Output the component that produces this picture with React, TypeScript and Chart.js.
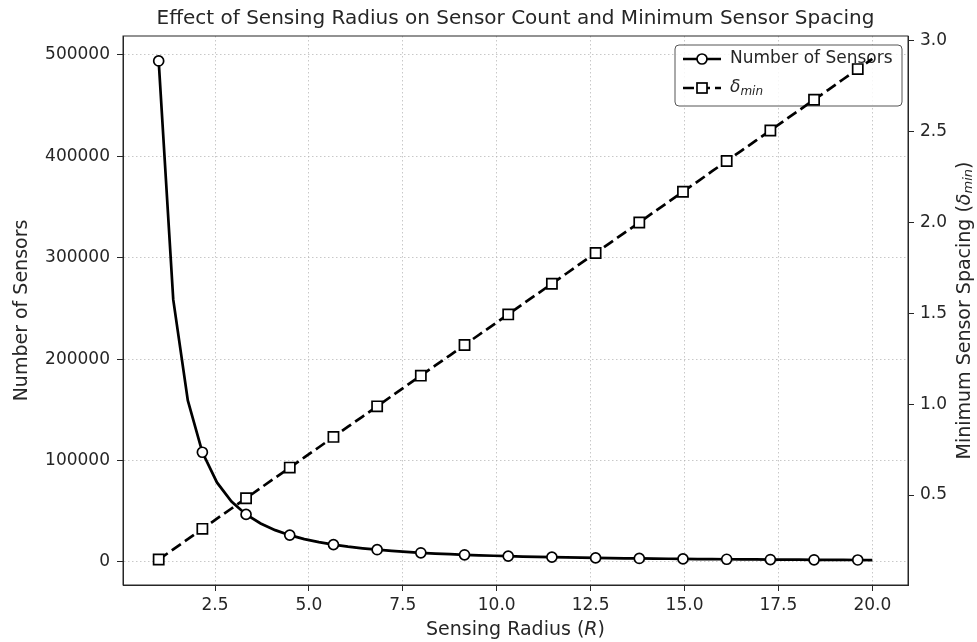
import React, { useEffect, useRef } from "react";
import { Chart, registerables } from "chart.js";
Chart.register(...registerables);

const radius = [
  1.0, 1.3878, 1.7755, 2.1633, 2.551, 2.9388, 3.3265, 3.7143, 4.102, 4.4898,
  4.8776, 5.2653, 5.6531, 6.0408, 6.4286, 6.8163, 7.2041, 7.5918, 7.9796, 8.3673,
  8.7551, 9.1429, 9.5306, 9.9184, 10.3061, 10.6939, 11.0816, 11.4694, 11.8571, 12.2449,
  12.6327, 13.0204, 13.4082, 13.7959, 14.1837, 14.5714, 14.9592, 15.3469, 15.7347, 16.1224,
  16.5102, 16.898, 17.2857, 17.6735, 18.0612, 18.449, 18.8367, 19.2245, 19.6122, 20.0,
];

const sensorCount = [
  494100, 258600, 159200, 108100, 78340, 59490, 46790, 37830, 31260, 26310,
  22440, 19400, 16980, 14980, 13320, 11950, 10770, 9769, 8908, 8161,
  7510, 6937, 6432, 5982, 5580, 5221, 4897, 4605, 4339, 4098,
  3878, 3676, 3492, 3321, 3164, 3018, 2885, 2759, 2643, 2535,
  2434, 2340, 2251, 2168, 2090, 2017, 1947, 1883, 1821, 1763,
];

const deltaMin = [
  0.145, 0.201, 0.257, 0.314, 0.37, 0.426, 0.482, 0.539, 0.595, 0.651,
  0.707, 0.763, 0.82, 0.876, 0.932, 0.988, 1.045, 1.101, 1.157, 1.213,
  1.269, 1.326, 1.382, 1.438, 1.494, 1.551, 1.607, 1.663, 1.719, 1.776,
  1.832, 1.888, 1.944, 2.0, 2.057, 2.113, 2.169, 2.225, 2.282, 2.338,
  2.394, 2.45, 2.506, 2.563, 2.619, 2.675, 2.731, 2.788, 2.844, 2.9,
];

const xTicks = [2.5, 5.0, 7.5, 10.0, 12.5, 15.0, 17.5, 20.0];
const leftTicks = [0, 100000, 200000, 300000, 400000, 500000];
const rightTicks = [0.5, 1.0, 1.5, 2.0, 2.5, 3.0];

const FONT = "DejaVu Sans";
const INK = "#262626";
const GRID = "rgba(176,176,176,0.7)";

function drawMixed(
  ctx: CanvasRenderingContext2D,
  parts: { t: string; f: string; dy?: number }[],
  cx: number,
  cy: number
) {
  let total = 0;
  const widths = parts.map((p) => {
    ctx.font = p.f;
    const w = ctx.measureText(p.t).width;
    total += w;
    return w;
  });
  let x = cx - total / 2;
  parts.forEach((p, i) => {
    ctx.font = p.f;
    ctx.fillText(p.t, x, cy + (p.dy || 0));
    x += widths[i];
  });
}

const customPlugin = {
  id: "custom",
  beforeDatasetsDraw(chart: any) {
    const ctx: CanvasRenderingContext2D = chart.ctx;
    const bx = 675, by = 45, bw = 227, bh = 61, r = 4;
    ctx.save();
    ctx.beginPath();
    ctx.moveTo(bx + r, by);
    ctx.arcTo(bx + bw, by, bx + bw, by + bh, r);
    ctx.arcTo(bx + bw, by + bh, bx, by + bh, r);
    ctx.arcTo(bx, by + bh, bx, by, r);
    ctx.arcTo(bx, by, bx + bw, by, r);
    ctx.closePath();
    ctx.fillStyle = "rgba(255,255,255,0.85)";
    ctx.fill();
    ctx.strokeStyle = "#555";
    ctx.lineWidth = 1;
    ctx.stroke();

    const y1 = 59, y2 = 88;
    ctx.strokeStyle = "#000";
    ctx.lineWidth = 2.7;
    ctx.setLineDash([]);
    ctx.beginPath();
    ctx.moveTo(683, y1);
    ctx.lineTo(721, y1);
    ctx.stroke();
    ctx.beginPath();
    ctx.arc(702, y1, 5, 0, Math.PI * 2);
    ctx.fillStyle = "#fff";
    ctx.fill();
    ctx.lineWidth = 1.7;
    ctx.stroke();
    ctx.lineWidth = 2.7;
    ctx.setLineDash([11, 5]);
    ctx.beginPath();
    ctx.moveTo(683, y2);
    ctx.lineTo(721, y2);
    ctx.stroke();
    ctx.setLineDash([]);
    ctx.fillStyle = "#fff";
    ctx.fillRect(697, y2 - 5, 10, 10);
    ctx.lineWidth = 1.7;
    ctx.strokeRect(697, y2 - 5, 10, 10);

    ctx.fillStyle = INK;
    ctx.textBaseline = "middle";
    ctx.textAlign = "left";
    ctx.font = `17px ${FONT}`;
    ctx.fillText("Number of Sensors", 730, y1);
    ctx.font = `italic 17px ${FONT}`;
    ctx.fillText("δ", 730, y2);
    const dw = ctx.measureText("δ").width;
    ctx.font = `italic 12px ${FONT}`;
    ctx.fillText("min", 730 + dw, y2 + 4);
    ctx.restore();
  },
  afterDraw(chart: any) {
    const ctx: CanvasRenderingContext2D = chart.ctx;
    const a = chart.chartArea;
    ctx.save();
    ctx.strokeStyle = INK;
    ctx.lineWidth = 1;
    ctx.setLineDash([]);
    ctx.strokeRect(a.left, a.top, a.right - a.left, a.bottom - a.top);

    ctx.fillStyle = INK;
    ctx.textBaseline = "middle";
    ctx.textAlign = "left";
    drawMixed(
      ctx,
      [
        { t: "Sensing Radius (", f: `19px ${FONT}` },
        { t: "R", f: `italic 19px ${FONT}` },
        { t: ")", f: `19px ${FONT}` },
      ],
      (a.left + a.right) / 2,
      630
    );
    ctx.translate(965, (a.top + a.bottom) / 2);
    ctx.rotate(-Math.PI / 2);
    drawMixed(
      ctx,
      [
        { t: "Minimum Sensor Spacing (", f: `19px ${FONT}` },
        { t: "δ", f: `italic 19px ${FONT}` },
        { t: "min", f: `italic 13px ${FONT}`, dy: 4 },
        { t: ")", f: `19px ${FONT}` },
      ],
      0,
      0
    );
    ctx.restore();
  },
};

export default function App() {
  const ref = useRef<HTMLCanvasElement | null>(null);
  useEffect(() => {
    document.body.style.margin = "0";
    if (!ref.current) return;
    Chart.defaults.font.family = FONT;
    const tickFont = { family: FONT, size: 17 };
    const chart = new Chart(ref.current, {
      type: "line",
      data: {
        datasets: [
          {
            label: "Number of Sensors",
            data: radius.map((r, i) => ({ x: r, y: sensorCount[i] })),
            yAxisID: "y",
            borderColor: "#000",
            borderWidth: 2.7,
            pointStyle: "circle",
            pointRadius: (c: any) => (c.dataIndex % 3 === 0 ? 5 : 0),
            pointBackgroundColor: "#fff",
            pointBorderColor: "#000",
            pointBorderWidth: 1.7,
            tension: 0,
            order: 1,
          },
          {
            label: "δmin",
            data: radius.map((r, i) => ({ x: r, y: deltaMin[i] })),
            yAxisID: "y1",
            borderColor: "#000",
            borderWidth: 2.7,
            borderDash: [11, 5],
            pointStyle: "rect",
            pointRadius: (c: any) => (c.dataIndex % 3 === 0 ? 7.2 : 0),
            pointBackgroundColor: "#fff",
            pointBorderColor: "#000",
            pointBorderWidth: 1.7,
            tension: 0,
            order: 0,
          },
        ],
      } as any,
      options: {
        animation: false,
        responsive: false,
        devicePixelRatio: 1,
        layout: { padding: 0 },
        plugins: {
          legend: { display: false },
          tooltip: { enabled: false },
          title: {
            display: true,
            fullSize: false,
            text: "Effect of Sensing Radius on Sensor Count and Minimum Sensor Spacing",
            color: INK,
            font: { family: FONT, size: 20, weight: "normal" },
            padding: { top: 7, bottom: 5 },
          },
        },
        scales: {
          x: {
            type: "linear",
            min: 0.05,
            max: 20.95,
            afterBuildTicks: (s: any) => {
              s.ticks = xTicks.map((v) => ({ value: v }));
            },
            afterFit: (s: any) => {
              s.height = 57;
            },
            ticks: {
              callback: (v: any) => Number(v).toFixed(1),
              font: tickFont,
              color: INK,
              padding: 4,
              maxRotation: 0,
              autoSkip: false,
            },
            grid: {
              color: GRID,
              lineWidth: 1,
              tickColor: INK,
              tickLength: 6,
              tickWidth: 1,
            },
            border: { display: true, color: INK, width: 1, dash: [1.5, 2.5] },
          },
          y: {
            type: "linear",
            position: "left",
            min: -22854,
            max: 518717,
            afterBuildTicks: (s: any) => {
              s.ticks = leftTicks.map((v) => ({ value: v }));
            },
            afterFit: (s: any) => {
              s.width = 123;
            },
            ticks: {
              callback: (v: any) => String(v),
              font: tickFont,
              color: INK,
              padding: 7,
              autoSkip: false,
            },
            grid: {
              color: GRID,
              lineWidth: 1,
              tickColor: INK,
              tickLength: 6,
              tickWidth: 1,
            },
            border: { display: true, color: INK, width: 1, dash: [1.5, 2.5] },
            title: {
              display: true,
              text: "Number of Sensors",
              color: INK,
              font: { family: FONT, size: 19 },
              padding: { top: 11, bottom: 0 },
            },
          },
          y1: {
            type: "linear",
            position: "right",
            min: 0.005,
            max: 3.026,
            afterBuildTicks: (s: any) => {
              s.ticks = rightTicks.map((v) => ({ value: v }));
            },
            afterFit: (s: any) => {
              s.width = 69;
            },
            ticks: {
              callback: (v: any) => Number(v).toFixed(1),
              font: tickFont,
              color: INK,
              padding: 6,
              autoSkip: false,
            },
            grid: {
              drawOnChartArea: false,
              color: INK,
              tickColor: INK,
              tickLength: 6,
              tickWidth: 1,
            },
            border: { display: true, color: INK, width: 1 },
          },
        },
      } as any,
      plugins: [customPlugin],
    });
    return () => chart.destroy();
  }, []);
  return (
    <div style={{ width: 977, height: 642 }}>
      <canvas ref={ref} width={977} height={642} style={{ display: "block" }} />
    </div>
  );
}
